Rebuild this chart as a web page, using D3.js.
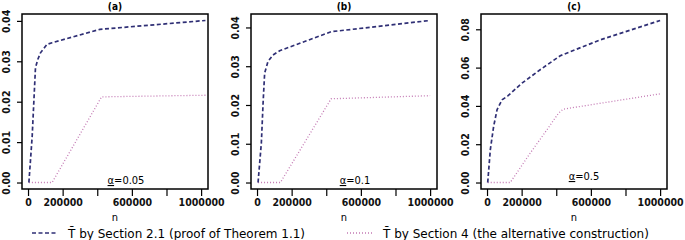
<!DOCTYPE html>
<html>
<head>
<meta charset="utf-8">
<script src="https://cdn.jsdelivr.net/npm/d3@7"></script>
<style>
  body { margin: 0; background: #fff; }
  text { font-family: "DejaVu Sans Condensed", "DejaVu Sans", sans-serif; }
</style>
</head>
<body>
<div id="chart"></div>
<script>
var width = 685, height = 240;

// panel titles and annotation
var titles = ["(a)", "(b)", "(c)"];
var alphas = ["=0.05", "=0.1", "=0.5"];

// dashed series: T by Section 2.1
var nDashA = [5000, 24000, 37000, 43000, 56000, 72000, 110000, 139000, 415000, 1025000];
var dashA  = [0, 0.0114, 0.0230, 0.0284, 0.0304, 0.0321, 0.0342, 0.0346, 0.0379, 0.0401];
var nDashB = [6000, 25000, 35000, 44000, 63000, 92000, 131000, 428000, 1000000];
var dashB  = [0, 0.0102, 0.0205, 0.0282, 0.0312, 0.0329, 0.0340, 0.0389, 0.0418];
var nDashC = [4000, 19000, 38000, 58000, 87000, 120000, 202000, 307000, 423000, 654000, 1000000];
var dashC  = [0, 0.0171, 0.0292, 0.0380, 0.0432, 0.0452, 0.0519, 0.0589, 0.0662, 0.0745, 0.0846];

// dotted series: T by Section 4
var nDotA = [5000, 139000, 425000, 1025000];
var dotA  = [0, 0, 0.0212, 0.0216];
var nDotB = [6000, 135000, 428000, 1000000];
var dotB  = [0, 0, 0.0216, 0.0224];
var nDotC = [4000, 134000, 250000, 346000, 413000, 440000, 1000000];
var dotC  = [0, 0, 0.0154, 0.0275, 0.0362, 0.0383, 0.0463];

// ticks
var xTicks = [0, 200000, 400000, 600000, 800000, 1000000];
var xTickLabels = ["0", "200000", "", "600000", "", "1000000"];
var yTicksAB = [0, 0.01, 0.02, 0.03, 0.04];
var yTicksC = [0, 0.02, 0.04, 0.06, 0.08];
var legendLabels = ["T\u0304 by Section 2.1 (proof of Theorem 1.1)", "T\u0304 by Section 4 (the alternative construction)"];

var dashColor = "#2f2f75", dotColor = "#c47ab4";

var panels = [
  {left: 22, nd: nDashA, d: dashA, no: nDotA, o: dotA, yt: yTicksAB, ax: 126, ay: 180},
  {left: 251, nd: nDashB, d: dashB, no: nDotB, o: dotB, yt: yTicksAB, ax: 355, ay: 180},
  {left: 481, nd: nDashC, d: dashC, no: nDotC, o: dotC, yt: yTicksC, ax: 584, ay: 176}
];
var boxW = 186, boxTop = 14, boxBottom = 189;

var svg = d3.select("#chart").append("svg")
    .attr("width", width)
    .attr("height", height);

// R-like 4% padding
function pad(ext) {
  var r = ext[1] - ext[0];
  return [ext[0] - 0.04 * r, ext[1] + 0.04 * r];
}

panels.forEach(function(p, i) {
  var x = d3.scaleLinear().domain(pad([5000, 1000000])).range([p.left, p.left + boxW]);
  var ymax = d3.max(p.d.concat(p.o));
  var y = d3.scaleLinear().domain(pad([0, ymax])).range([boxBottom, boxTop]);

  var g = svg.append("g");

  var line = d3.line().x(function(d) { return x(d[0]); }).y(function(d) { return y(d[1]); });

  g.append("path")
    .datum(d3.zip(p.no, p.o))
    .attr("fill", "none")
    .attr("stroke", dotColor)
    .attr("stroke-width", 1.3)
    .attr("stroke-dasharray", "1,2")
    .attr("d", line);

  g.append("path")
    .datum(d3.zip(p.nd, p.d))
    .attr("fill", "none")
    .attr("stroke", dashColor)
    .attr("stroke-width", 1.7)
    .attr("stroke-dasharray", "4,2.5")
    .attr("d", line);

  // box
  g.append("rect")
    .attr("x", p.left).attr("y", boxTop)
    .attr("width", boxW).attr("height", boxBottom - boxTop)
    .attr("fill", "none").attr("stroke", "#000").attr("stroke-width", 1.5);

  // x axis
  var xAxis = d3.axisBottom(x).tickValues(xTicks)
    .tickFormat(function(d, j) { return xTickLabels[j]; })
    .tickSize(7).tickSizeOuter(0).tickPadding(3);
  var xg = g.append("g").attr("transform", "translate(0," + boxBottom + ")").call(xAxis);
  xg.select(".domain").remove();
  xg.selectAll("line").attr("stroke-width", 1.2);
  xg.selectAll("text").attr("font-size", 10.5).attr("font-weight", "bold")
    .attr("font-family", "DejaVu Sans Condensed, DejaVu Sans").attr("fill", "#111");

  // y axis
  var yAxis = d3.axisLeft(y).tickValues(p.yt).tickFormat(d3.format(".2f"))
    .tickSize(5).tickSizeOuter(0).tickPadding(3);
  var yg = g.append("g").attr("transform", "translate(" + p.left + ",0)").call(yAxis);
  yg.select(".domain").remove();
  yg.selectAll("line").attr("stroke-width", 1.2);
  yg.selectAll("text")
    .attr("font-size", 10.5).attr("font-weight", "bold")
    .attr("font-family", "DejaVu Sans Condensed, DejaVu Sans").attr("fill", "#111")
    .attr("text-anchor", "middle").attr("dy", null)
    .attr("transform", "translate(-12,0) rotate(-90)")
    .attr("x", 0).attr("y", 0);

  // title
  g.append("text")
    .attr("x", p.left + boxW / 2).attr("y", 10)
    .attr("text-anchor", "middle")
    .attr("font-size", 10).attr("font-weight", "bold")
    .text(titles[i]);

  // n label
  g.append("text")
    .attr("x", p.left + boxW / 2).attr("y", 221)
    .attr("text-anchor", "middle")
    .attr("font-size", 11)
    .text("n");

  // alpha annotation
  var t = g.append("text")
    .attr("x", p.ax).attr("y", p.ay + 4)
    .attr("text-anchor", "middle")
    .attr("font-size", 11);
  t.append("tspan").attr("text-decoration", "underline").text("\u03b1");
  t.append("tspan").text(alphas[i]);
});

// legend
var legend = svg.append("g");
legend.append("line").attr("x1", 32).attr("x2", 57).attr("y1", 233).attr("y2", 233)
  .attr("stroke", dashColor).attr("stroke-width", 1.7).attr("stroke-dasharray", "4,2.5");
legend.append("text").attr("x", 68).attr("y", 237.5).attr("font-size", 12)
  .style("font-family", "DejaVu Sans, sans-serif").text(legendLabels[0]);
legend.append("line").attr("x1", 347).attr("x2", 372).attr("y1", 233).attr("y2", 233)
  .attr("stroke", dotColor).attr("stroke-width", 1.3).attr("stroke-dasharray", "1,2");
legend.append("text").attr("x", 383).attr("y", 237.5).attr("font-size", 12)
  .style("font-family", "DejaVu Sans, sans-serif").text(legendLabels[1]);
</script>
</body>
</html>
